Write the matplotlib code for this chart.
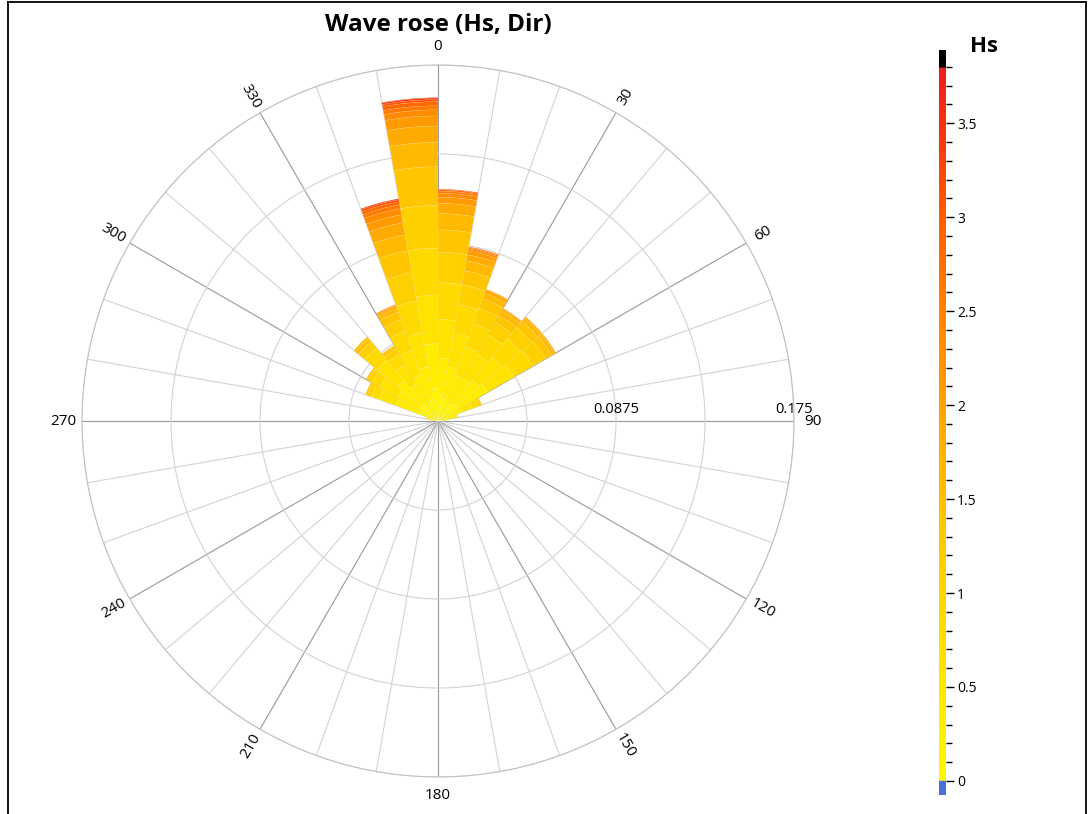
import matplotlib.pyplot as plt
import numpy as np
from matplotlib.colors import LinearSegmentedColormap, Normalize
from matplotlib.lines import Line2D

plt.rcParams['font.family'] = ['Open Sans', 'DejaVu Sans']

# Hs bin edges (m), 15 bins
hs_edges = [0, 0.25, 0.5, 0.75, 1.0, 1.25, 1.5, 1.75, 2.0, 2.25, 2.5, 2.75, 3.0, 3.25, 3.5, 3.75]

# frequency per Hs bin (lowest Hs first) for each 10 deg direction sector (key = sector start)
s000 = [0.013, 0.018, 0.019, 0.018, 0.015, 0.011, 0.008, 0.005, 0.003, 0.002, 0.001, 0.0007, 0.0003]
s010 = [0.011, 0.016, 0.017, 0.014, 0.010, 0.007, 0.005, 0.003, 0.002, 0.001, 0.0006, 0.0004]
s020 = [0.010, 0.014, 0.015, 0.012, 0.008, 0.005, 0.003, 0.0015, 0.0005]
s030 = [0.010, 0.014, 0.014, 0.011, 0.007, 0.004, 0.0025, 0.001, 0.0005]
s040 = [0.011, 0.015, 0.015, 0.012, 0.007, 0.004, 0.002, 0.0007, 0.0003]
s050 = [0.012, 0.016, 0.015, 0.011, 0.007, 0.0035, 0.0015, 0.0007, 0.0003]
s060 = [0.006, 0.007, 0.005, 0.003, 0.0015, 0.0005]
s070 = [0.004, 0.004, 0.0015, 0.0005]
s080 = [0.002, 0.0015, 0.0005]
s270 = [0.001, 0.001]
s280 = [0.003, 0.002, 0.001]
s290 = [0.010, 0.012, 0.009, 0.004, 0.002, 0.001]
s300 = [0.010, 0.013, 0.010, 0.005, 0.002, 0.001]
s310 = [0.011, 0.015, 0.013, 0.008, 0.004, 0.002, 0.001]
s320 = [0.009, 0.012, 0.011, 0.006, 0.003, 0.0015, 0.0005]
s330 = [0.010, 0.014, 0.013, 0.010, 0.006, 0.004, 0.002, 0.001, 0.0007, 0.0003]
s340 = [0.011, 0.016, 0.017, 0.016, 0.014, 0.011, 0.008, 0.006, 0.004, 0.003, 0.002, 0.0015, 0.001, 0.0005]
s350 = [0.016, 0.022, 0.024, 0.023, 0.021, 0.019, 0.012, 0.008, 0.005, 0.003, 0.002, 0.002, 0.001, 0.0008, 0.0002]

sectors = {0: s000, 10: s010, 20: s020, 30: s030, 40: s040, 50: s050, 60: s060,
           70: s070, 80: s080, 270: s270, 280: s280, 290: s290, 300: s300,
           310: s310, 320: s320, 330: s330, 340: s340, 350: s350}

dir_labels = [0, 30, 60, 90, 120, 150, 180, 210, 240, 270, 300, 330]
r_grid = [0.04375, 0.0875, 0.13125, 0.175]
r_labels = ['', '0.0875', '', '0.175']
r_max = 0.175

# colour scale for Hs
hs_max = 3.89
cmap_vals = [0, 0.5, 1.0, 1.5, 2.0, 2.5, 3.0, 3.5, 3.80, 3.81, 3.89]
cmap_cols = ['#fff700', '#ffe800', '#ffd500', '#ffc000', '#ffa300', '#ff8300', '#ff5e00',
             '#f5320f', '#ec1e1e', '#000000', '#000000']
cmap = LinearSegmentedColormap.from_list('hs', list(zip(np.array(cmap_vals) / hs_max, cmap_cols)))
norm = Normalize(0, hs_max)

fig = plt.figure(figsize=(10.88, 8.14), dpi=100)

ax = fig.add_axes([82 / 1088, 1 - 777 / 814, 712 / 1088, 712 / 814], projection='polar')
ax.set_theta_zero_location('N')
ax.set_theta_direction(-1)
ax.set_axisbelow(True)

for d, freqs in sectors.items():
    bottom = 0
    for i, f in enumerate(freqs):
        hs_mid = (hs_edges[i] + hs_edges[i + 1]) / 2
        ax.bar(np.radians(d), f, width=np.radians(10), bottom=bottom, align='edge',
               color=cmap(norm(hs_mid)), edgecolor=(1, 1, 1, 0.22), linewidth=0.3)
        bottom += f

ax.set_ylim(0, r_max)
ax.set_thetagrids(np.arange(0, 360, 10), labels=[''] * 36)
ax.set_rgrids(r_grid, labels=[''] * 4)
ax.grid(True, color='#d3d3d3', linewidth=0.8)
for ang, line in zip(range(0, 360, 10), ax.xaxis.get_gridlines()):
    if ang % 30 == 0:
        line.set_color('#999999')
ax.spines['polar'].set_color('#c0c0c0')
ax.tick_params(axis='x', length=0)

# direction labels, rotated along the spoke
for lab in dir_labels:
    rot = ((90 - lab) + 90) % 180 - 90
    if lab in (0, 180):
        rot = 0
    ax.text(np.radians(lab), r_max * 1.053, str(lab), rotation=rot, rotation_mode='anchor',
            ha='center', va='center', fontsize=11, clip_on=False)

for r, s in zip(r_grid, r_labels):
    if s:
        ax.annotate(s, xy=(np.radians(90), r), xytext=(0, 3), textcoords='offset points',
                    ha='center', va='bottom', fontsize=10.5)

# colour bar
cax = fig.add_axes([939 / 1088, 1 - 795 / 814, 7 / 1088, 745 / 814])
grad = np.linspace(0, hs_max, 500).reshape(-1, 1)
cax.imshow(grad, extent=[0, 1, 0, hs_max], aspect='auto', origin='lower', cmap=cmap, norm=norm)
cax.axhspan(-0.075, 0, color='#4a6fd8')
cax.set_xlim(0, 1)
cax.set_ylim(-0.075, hs_max)
cax.set_xticks([])
cax.yaxis.tick_right()
cax.set_yticks([0, 0.5, 1, 1.5, 2, 2.5, 3, 3.5])
cax.set_yticklabels(['0', '0.5', '1', '1.5', '2', '2.5', '3', '3.5'])
cax.set_yticks(np.arange(0, 3.85, 0.1), minor=True)
for sp in cax.spines.values():
    sp.set_visible(False)
cax.tick_params(axis='y', which='major', length=6, width=1, labelsize=10, pad=2)
cax.tick_params(axis='y', which='minor', length=4, width=1)

fig.text(438 / 1088, 1 - 25 / 814, 'Wave rose (Hs, Dir)', ha='center', va='center',
         fontsize=17.5, fontweight='bold')
fig.text(984 / 1088, 1 - 47 / 814, 'Hs', ha='center', va='center', fontsize=16, fontweight='bold')

# frame
fig.add_artist(Line2D([8 / 1088, 8 / 1088], [0, 1 - 2 / 814], transform=fig.transFigure, color='black', lw=1.3))
fig.add_artist(Line2D([8 / 1088, 1086 / 1088], [1 - 2 / 814, 1 - 2 / 814], transform=fig.transFigure, color='black', lw=1.3))
fig.add_artist(Line2D([1086 / 1088, 1086 / 1088], [0, 1 - 2 / 814], transform=fig.transFigure, color='black', lw=1.3))

fig.savefig('out.png', dpi=100)
